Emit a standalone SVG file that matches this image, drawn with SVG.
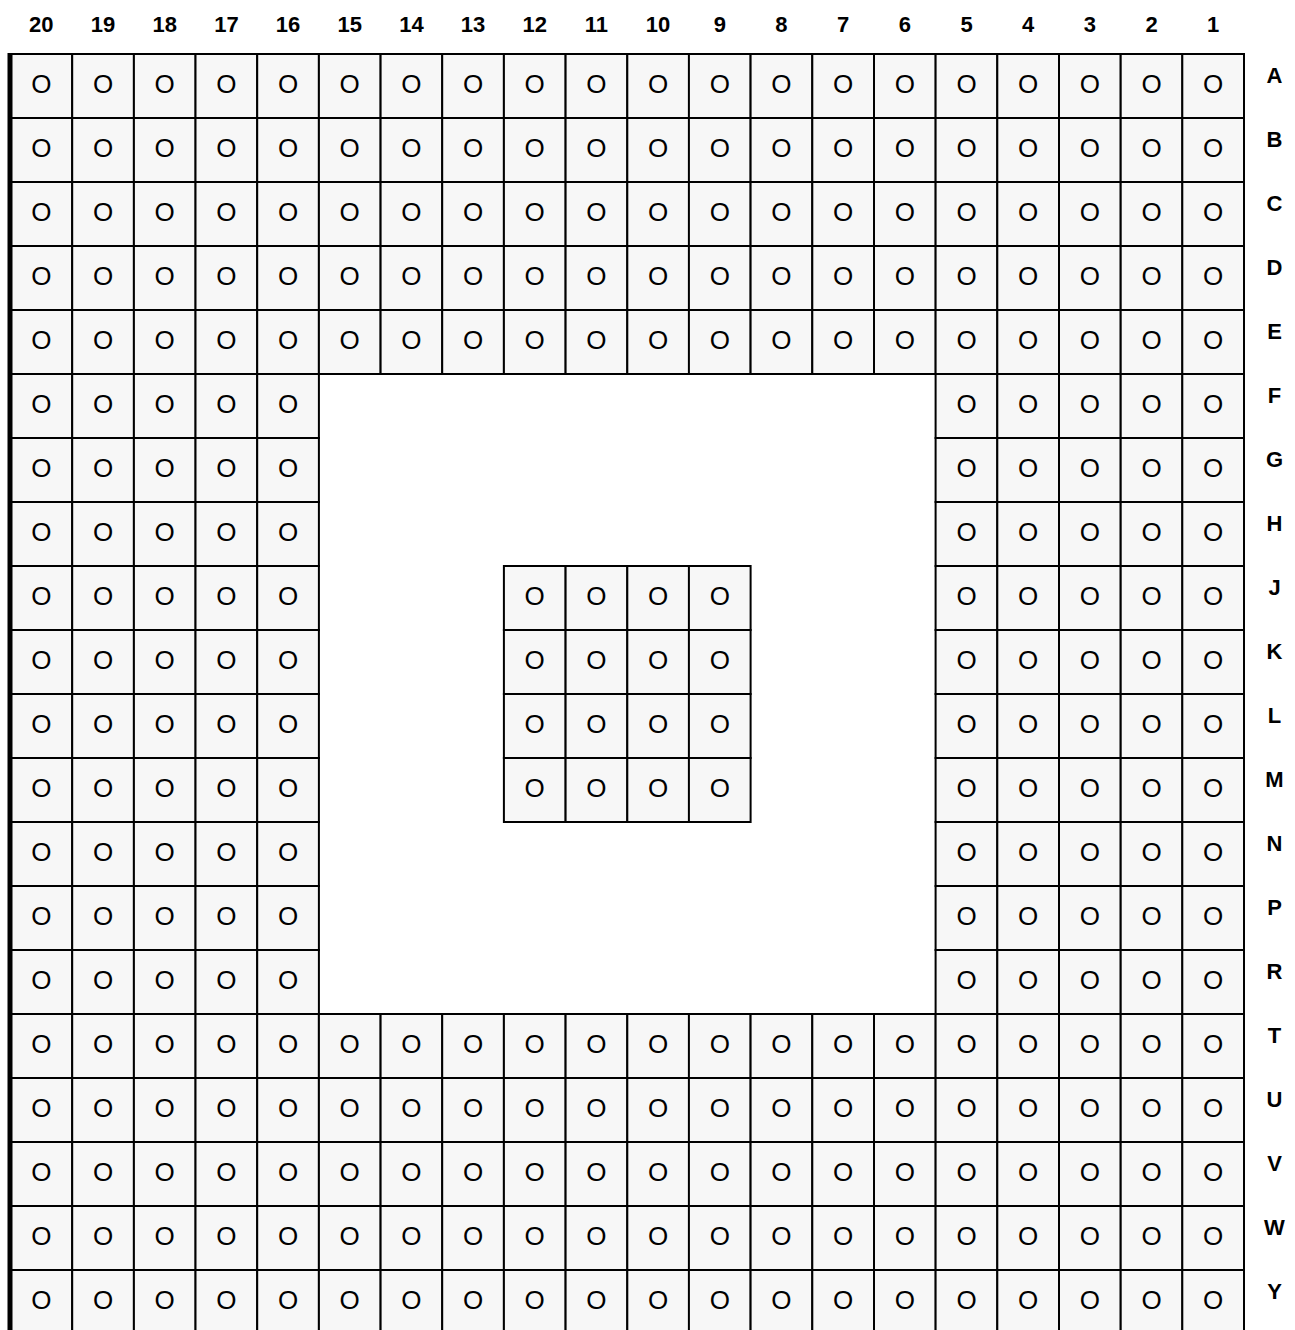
<svg xmlns="http://www.w3.org/2000/svg" width="1295" height="1330" viewBox="0 0 1295 1330">
<style>
rect{fill:#f7f7f7;stroke:#000;stroke-width:2}
text{font-family:"Liberation Sans",Arial,sans-serif;font-size:26px;text-anchor:middle;fill:#000}
.lbl{font-size:22px;font-weight:bold}
</style>
<rect x="0" y="0" width="1295" height="1330" style="fill:#fff;stroke:none"/>
<g id="col-labels">
<text class="lbl" x="41.3" y="32">20</text><text class="lbl" x="103" y="32">19</text><text class="lbl" x="164.7" y="32">18</text><text class="lbl" x="226.4" y="32">17</text><text class="lbl" x="288" y="32">16</text><text class="lbl" x="349.7" y="32">15</text><text class="lbl" x="411.4" y="32">14</text><text class="lbl" x="473.1" y="32">13</text><text class="lbl" x="534.7" y="32">12</text><text class="lbl" x="596.4" y="32">11</text><text class="lbl" x="658.1" y="32">10</text><text class="lbl" x="719.8" y="32">9</text><text class="lbl" x="781.4" y="32">8</text><text class="lbl" x="843.1" y="32">7</text><text class="lbl" x="904.8" y="32">6</text><text class="lbl" x="966.5" y="32">5</text><text class="lbl" x="1028.1" y="32">4</text><text class="lbl" x="1089.8" y="32">3</text><text class="lbl" x="1151.5" y="32">2</text><text class="lbl" x="1213.2" y="32">1</text>
</g>
<g id="row-labels">
<text class="lbl" x="1274.5" y="83">A</text><text class="lbl" x="1274.5" y="147">B</text><text class="lbl" x="1274.5" y="211">C</text><text class="lbl" x="1274.5" y="275">D</text><text class="lbl" x="1274.5" y="339">E</text><text class="lbl" x="1274.5" y="403">F</text><text class="lbl" x="1274.5" y="467">G</text><text class="lbl" x="1274.5" y="531">H</text><text class="lbl" x="1274.5" y="595">J</text><text class="lbl" x="1274.5" y="659">K</text><text class="lbl" x="1274.5" y="723">L</text><text class="lbl" x="1274.5" y="787">M</text><text class="lbl" x="1274.5" y="851">N</text><text class="lbl" x="1274.5" y="915">P</text><text class="lbl" x="1274.5" y="979">R</text><text class="lbl" x="1274.5" y="1043">T</text><text class="lbl" x="1274.5" y="1107">U</text><text class="lbl" x="1274.5" y="1171">V</text><text class="lbl" x="1274.5" y="1235">W</text><text class="lbl" x="1274.5" y="1299">Y</text>
</g>
<g id="cells">
<g transform="translate(0,54)">
<g id="A20"><rect x="10.5" width="61.7" height="64"/><text x="41.3" y="39">O</text></g><g id="A19"><rect x="72.2" width="61.7" height="64"/><text x="103" y="39">O</text></g><g id="A18"><rect x="133.9" width="61.7" height="64"/><text x="164.7" y="39">O</text></g><g id="A17"><rect x="195.5" width="61.7" height="64"/><text x="226.4" y="39">O</text></g><g id="A16"><rect x="257.2" width="61.7" height="64"/><text x="288" y="39">O</text></g><g id="A15"><rect x="318.9" width="61.7" height="64"/><text x="349.7" y="39">O</text></g><g id="A14"><rect x="380.6" width="61.7" height="64"/><text x="411.4" y="39">O</text></g><g id="A13"><rect x="442.2" width="61.7" height="64"/><text x="473.1" y="39">O</text></g><g id="A12"><rect x="503.9" width="61.7" height="64"/><text x="534.7" y="39">O</text></g><g id="A11"><rect x="565.6" width="61.7" height="64"/><text x="596.4" y="39">O</text></g><g id="A10"><rect x="627.3" width="61.7" height="64"/><text x="658.1" y="39">O</text></g><g id="A9"><rect x="688.9" width="61.7" height="64"/><text x="719.8" y="39">O</text></g><g id="A8"><rect x="750.6" width="61.7" height="64"/><text x="781.4" y="39">O</text></g><g id="A7"><rect x="812.3" width="61.7" height="64"/><text x="843.1" y="39">O</text></g><g id="A6"><rect x="874" width="61.7" height="64"/><text x="904.8" y="39">O</text></g><g id="A5"><rect x="935.6" width="61.7" height="64"/><text x="966.5" y="39">O</text></g><g id="A4"><rect x="997.3" width="61.7" height="64"/><text x="1028.1" y="39">O</text></g><g id="A3"><rect x="1059" width="61.7" height="64"/><text x="1089.8" y="39">O</text></g><g id="A2"><rect x="1120.7" width="61.7" height="64"/><text x="1151.5" y="39">O</text></g><g id="A1"><rect x="1182.3" width="61.7" height="64"/><text x="1213.2" y="39">O</text></g>
</g>
<g transform="translate(0,118)">
<g id="B20"><rect x="10.5" width="61.7" height="64"/><text x="41.3" y="39">O</text></g><g id="B19"><rect x="72.2" width="61.7" height="64"/><text x="103" y="39">O</text></g><g id="B18"><rect x="133.9" width="61.7" height="64"/><text x="164.7" y="39">O</text></g><g id="B17"><rect x="195.5" width="61.7" height="64"/><text x="226.4" y="39">O</text></g><g id="B16"><rect x="257.2" width="61.7" height="64"/><text x="288" y="39">O</text></g><g id="B15"><rect x="318.9" width="61.7" height="64"/><text x="349.7" y="39">O</text></g><g id="B14"><rect x="380.6" width="61.7" height="64"/><text x="411.4" y="39">O</text></g><g id="B13"><rect x="442.2" width="61.7" height="64"/><text x="473.1" y="39">O</text></g><g id="B12"><rect x="503.9" width="61.7" height="64"/><text x="534.7" y="39">O</text></g><g id="B11"><rect x="565.6" width="61.7" height="64"/><text x="596.4" y="39">O</text></g><g id="B10"><rect x="627.3" width="61.7" height="64"/><text x="658.1" y="39">O</text></g><g id="B9"><rect x="688.9" width="61.7" height="64"/><text x="719.8" y="39">O</text></g><g id="B8"><rect x="750.6" width="61.7" height="64"/><text x="781.4" y="39">O</text></g><g id="B7"><rect x="812.3" width="61.7" height="64"/><text x="843.1" y="39">O</text></g><g id="B6"><rect x="874" width="61.7" height="64"/><text x="904.8" y="39">O</text></g><g id="B5"><rect x="935.6" width="61.7" height="64"/><text x="966.5" y="39">O</text></g><g id="B4"><rect x="997.3" width="61.7" height="64"/><text x="1028.1" y="39">O</text></g><g id="B3"><rect x="1059" width="61.7" height="64"/><text x="1089.8" y="39">O</text></g><g id="B2"><rect x="1120.7" width="61.7" height="64"/><text x="1151.5" y="39">O</text></g><g id="B1"><rect x="1182.3" width="61.7" height="64"/><text x="1213.2" y="39">O</text></g>
</g>
<g transform="translate(0,182)">
<g id="C20"><rect x="10.5" width="61.7" height="64"/><text x="41.3" y="39">O</text></g><g id="C19"><rect x="72.2" width="61.7" height="64"/><text x="103" y="39">O</text></g><g id="C18"><rect x="133.9" width="61.7" height="64"/><text x="164.7" y="39">O</text></g><g id="C17"><rect x="195.5" width="61.7" height="64"/><text x="226.4" y="39">O</text></g><g id="C16"><rect x="257.2" width="61.7" height="64"/><text x="288" y="39">O</text></g><g id="C15"><rect x="318.9" width="61.7" height="64"/><text x="349.7" y="39">O</text></g><g id="C14"><rect x="380.6" width="61.7" height="64"/><text x="411.4" y="39">O</text></g><g id="C13"><rect x="442.2" width="61.7" height="64"/><text x="473.1" y="39">O</text></g><g id="C12"><rect x="503.9" width="61.7" height="64"/><text x="534.7" y="39">O</text></g><g id="C11"><rect x="565.6" width="61.7" height="64"/><text x="596.4" y="39">O</text></g><g id="C10"><rect x="627.3" width="61.7" height="64"/><text x="658.1" y="39">O</text></g><g id="C9"><rect x="688.9" width="61.7" height="64"/><text x="719.8" y="39">O</text></g><g id="C8"><rect x="750.6" width="61.7" height="64"/><text x="781.4" y="39">O</text></g><g id="C7"><rect x="812.3" width="61.7" height="64"/><text x="843.1" y="39">O</text></g><g id="C6"><rect x="874" width="61.7" height="64"/><text x="904.8" y="39">O</text></g><g id="C5"><rect x="935.6" width="61.7" height="64"/><text x="966.5" y="39">O</text></g><g id="C4"><rect x="997.3" width="61.7" height="64"/><text x="1028.1" y="39">O</text></g><g id="C3"><rect x="1059" width="61.7" height="64"/><text x="1089.8" y="39">O</text></g><g id="C2"><rect x="1120.7" width="61.7" height="64"/><text x="1151.5" y="39">O</text></g><g id="C1"><rect x="1182.3" width="61.7" height="64"/><text x="1213.2" y="39">O</text></g>
</g>
<g transform="translate(0,246)">
<g id="D20"><rect x="10.5" width="61.7" height="64"/><text x="41.3" y="39">O</text></g><g id="D19"><rect x="72.2" width="61.7" height="64"/><text x="103" y="39">O</text></g><g id="D18"><rect x="133.9" width="61.7" height="64"/><text x="164.7" y="39">O</text></g><g id="D17"><rect x="195.5" width="61.7" height="64"/><text x="226.4" y="39">O</text></g><g id="D16"><rect x="257.2" width="61.7" height="64"/><text x="288" y="39">O</text></g><g id="D15"><rect x="318.9" width="61.7" height="64"/><text x="349.7" y="39">O</text></g><g id="D14"><rect x="380.6" width="61.7" height="64"/><text x="411.4" y="39">O</text></g><g id="D13"><rect x="442.2" width="61.7" height="64"/><text x="473.1" y="39">O</text></g><g id="D12"><rect x="503.9" width="61.7" height="64"/><text x="534.7" y="39">O</text></g><g id="D11"><rect x="565.6" width="61.7" height="64"/><text x="596.4" y="39">O</text></g><g id="D10"><rect x="627.3" width="61.7" height="64"/><text x="658.1" y="39">O</text></g><g id="D9"><rect x="688.9" width="61.7" height="64"/><text x="719.8" y="39">O</text></g><g id="D8"><rect x="750.6" width="61.7" height="64"/><text x="781.4" y="39">O</text></g><g id="D7"><rect x="812.3" width="61.7" height="64"/><text x="843.1" y="39">O</text></g><g id="D6"><rect x="874" width="61.7" height="64"/><text x="904.8" y="39">O</text></g><g id="D5"><rect x="935.6" width="61.7" height="64"/><text x="966.5" y="39">O</text></g><g id="D4"><rect x="997.3" width="61.7" height="64"/><text x="1028.1" y="39">O</text></g><g id="D3"><rect x="1059" width="61.7" height="64"/><text x="1089.8" y="39">O</text></g><g id="D2"><rect x="1120.7" width="61.7" height="64"/><text x="1151.5" y="39">O</text></g><g id="D1"><rect x="1182.3" width="61.7" height="64"/><text x="1213.2" y="39">O</text></g>
</g>
<g transform="translate(0,310)">
<g id="E20"><rect x="10.5" width="61.7" height="64"/><text x="41.3" y="39">O</text></g><g id="E19"><rect x="72.2" width="61.7" height="64"/><text x="103" y="39">O</text></g><g id="E18"><rect x="133.9" width="61.7" height="64"/><text x="164.7" y="39">O</text></g><g id="E17"><rect x="195.5" width="61.7" height="64"/><text x="226.4" y="39">O</text></g><g id="E16"><rect x="257.2" width="61.7" height="64"/><text x="288" y="39">O</text></g><g id="E15"><rect x="318.9" width="61.7" height="64"/><text x="349.7" y="39">O</text></g><g id="E14"><rect x="380.6" width="61.7" height="64"/><text x="411.4" y="39">O</text></g><g id="E13"><rect x="442.2" width="61.7" height="64"/><text x="473.1" y="39">O</text></g><g id="E12"><rect x="503.9" width="61.7" height="64"/><text x="534.7" y="39">O</text></g><g id="E11"><rect x="565.6" width="61.7" height="64"/><text x="596.4" y="39">O</text></g><g id="E10"><rect x="627.3" width="61.7" height="64"/><text x="658.1" y="39">O</text></g><g id="E9"><rect x="688.9" width="61.7" height="64"/><text x="719.8" y="39">O</text></g><g id="E8"><rect x="750.6" width="61.7" height="64"/><text x="781.4" y="39">O</text></g><g id="E7"><rect x="812.3" width="61.7" height="64"/><text x="843.1" y="39">O</text></g><g id="E6"><rect x="874" width="61.7" height="64"/><text x="904.8" y="39">O</text></g><g id="E5"><rect x="935.6" width="61.7" height="64"/><text x="966.5" y="39">O</text></g><g id="E4"><rect x="997.3" width="61.7" height="64"/><text x="1028.1" y="39">O</text></g><g id="E3"><rect x="1059" width="61.7" height="64"/><text x="1089.8" y="39">O</text></g><g id="E2"><rect x="1120.7" width="61.7" height="64"/><text x="1151.5" y="39">O</text></g><g id="E1"><rect x="1182.3" width="61.7" height="64"/><text x="1213.2" y="39">O</text></g>
</g>
<g transform="translate(0,374)">
<g id="F20"><rect x="10.5" width="61.7" height="64"/><text x="41.3" y="39">O</text></g><g id="F19"><rect x="72.2" width="61.7" height="64"/><text x="103" y="39">O</text></g><g id="F18"><rect x="133.9" width="61.7" height="64"/><text x="164.7" y="39">O</text></g><g id="F17"><rect x="195.5" width="61.7" height="64"/><text x="226.4" y="39">O</text></g><g id="F16"><rect x="257.2" width="61.7" height="64"/><text x="288" y="39">O</text></g><g id="F5"><rect x="935.6" width="61.7" height="64"/><text x="966.5" y="39">O</text></g><g id="F4"><rect x="997.3" width="61.7" height="64"/><text x="1028.1" y="39">O</text></g><g id="F3"><rect x="1059" width="61.7" height="64"/><text x="1089.8" y="39">O</text></g><g id="F2"><rect x="1120.7" width="61.7" height="64"/><text x="1151.5" y="39">O</text></g><g id="F1"><rect x="1182.3" width="61.7" height="64"/><text x="1213.2" y="39">O</text></g>
</g>
<g transform="translate(0,438)">
<g id="G20"><rect x="10.5" width="61.7" height="64"/><text x="41.3" y="39">O</text></g><g id="G19"><rect x="72.2" width="61.7" height="64"/><text x="103" y="39">O</text></g><g id="G18"><rect x="133.9" width="61.7" height="64"/><text x="164.7" y="39">O</text></g><g id="G17"><rect x="195.5" width="61.7" height="64"/><text x="226.4" y="39">O</text></g><g id="G16"><rect x="257.2" width="61.7" height="64"/><text x="288" y="39">O</text></g><g id="G5"><rect x="935.6" width="61.7" height="64"/><text x="966.5" y="39">O</text></g><g id="G4"><rect x="997.3" width="61.7" height="64"/><text x="1028.1" y="39">O</text></g><g id="G3"><rect x="1059" width="61.7" height="64"/><text x="1089.8" y="39">O</text></g><g id="G2"><rect x="1120.7" width="61.7" height="64"/><text x="1151.5" y="39">O</text></g><g id="G1"><rect x="1182.3" width="61.7" height="64"/><text x="1213.2" y="39">O</text></g>
</g>
<g transform="translate(0,502)">
<g id="H20"><rect x="10.5" width="61.7" height="64"/><text x="41.3" y="39">O</text></g><g id="H19"><rect x="72.2" width="61.7" height="64"/><text x="103" y="39">O</text></g><g id="H18"><rect x="133.9" width="61.7" height="64"/><text x="164.7" y="39">O</text></g><g id="H17"><rect x="195.5" width="61.7" height="64"/><text x="226.4" y="39">O</text></g><g id="H16"><rect x="257.2" width="61.7" height="64"/><text x="288" y="39">O</text></g><g id="H5"><rect x="935.6" width="61.7" height="64"/><text x="966.5" y="39">O</text></g><g id="H4"><rect x="997.3" width="61.7" height="64"/><text x="1028.1" y="39">O</text></g><g id="H3"><rect x="1059" width="61.7" height="64"/><text x="1089.8" y="39">O</text></g><g id="H2"><rect x="1120.7" width="61.7" height="64"/><text x="1151.5" y="39">O</text></g><g id="H1"><rect x="1182.3" width="61.7" height="64"/><text x="1213.2" y="39">O</text></g>
</g>
<g transform="translate(0,566)">
<g id="J20"><rect x="10.5" width="61.7" height="64"/><text x="41.3" y="39">O</text></g><g id="J19"><rect x="72.2" width="61.7" height="64"/><text x="103" y="39">O</text></g><g id="J18"><rect x="133.9" width="61.7" height="64"/><text x="164.7" y="39">O</text></g><g id="J17"><rect x="195.5" width="61.7" height="64"/><text x="226.4" y="39">O</text></g><g id="J16"><rect x="257.2" width="61.7" height="64"/><text x="288" y="39">O</text></g><g id="J12"><rect x="503.9" width="61.7" height="64"/><text x="534.7" y="39">O</text></g><g id="J11"><rect x="565.6" width="61.7" height="64"/><text x="596.4" y="39">O</text></g><g id="J10"><rect x="627.3" width="61.7" height="64"/><text x="658.1" y="39">O</text></g><g id="J9"><rect x="688.9" width="61.7" height="64"/><text x="719.8" y="39">O</text></g><g id="J5"><rect x="935.6" width="61.7" height="64"/><text x="966.5" y="39">O</text></g><g id="J4"><rect x="997.3" width="61.7" height="64"/><text x="1028.1" y="39">O</text></g><g id="J3"><rect x="1059" width="61.7" height="64"/><text x="1089.8" y="39">O</text></g><g id="J2"><rect x="1120.7" width="61.7" height="64"/><text x="1151.5" y="39">O</text></g><g id="J1"><rect x="1182.3" width="61.7" height="64"/><text x="1213.2" y="39">O</text></g>
</g>
<g transform="translate(0,630)">
<g id="K20"><rect x="10.5" width="61.7" height="64"/><text x="41.3" y="39">O</text></g><g id="K19"><rect x="72.2" width="61.7" height="64"/><text x="103" y="39">O</text></g><g id="K18"><rect x="133.9" width="61.7" height="64"/><text x="164.7" y="39">O</text></g><g id="K17"><rect x="195.5" width="61.7" height="64"/><text x="226.4" y="39">O</text></g><g id="K16"><rect x="257.2" width="61.7" height="64"/><text x="288" y="39">O</text></g><g id="K12"><rect x="503.9" width="61.7" height="64"/><text x="534.7" y="39">O</text></g><g id="K11"><rect x="565.6" width="61.7" height="64"/><text x="596.4" y="39">O</text></g><g id="K10"><rect x="627.3" width="61.7" height="64"/><text x="658.1" y="39">O</text></g><g id="K9"><rect x="688.9" width="61.7" height="64"/><text x="719.8" y="39">O</text></g><g id="K5"><rect x="935.6" width="61.7" height="64"/><text x="966.5" y="39">O</text></g><g id="K4"><rect x="997.3" width="61.7" height="64"/><text x="1028.1" y="39">O</text></g><g id="K3"><rect x="1059" width="61.7" height="64"/><text x="1089.8" y="39">O</text></g><g id="K2"><rect x="1120.7" width="61.7" height="64"/><text x="1151.5" y="39">O</text></g><g id="K1"><rect x="1182.3" width="61.7" height="64"/><text x="1213.2" y="39">O</text></g>
</g>
<g transform="translate(0,694)">
<g id="L20"><rect x="10.5" width="61.7" height="64"/><text x="41.3" y="39">O</text></g><g id="L19"><rect x="72.2" width="61.7" height="64"/><text x="103" y="39">O</text></g><g id="L18"><rect x="133.9" width="61.7" height="64"/><text x="164.7" y="39">O</text></g><g id="L17"><rect x="195.5" width="61.7" height="64"/><text x="226.4" y="39">O</text></g><g id="L16"><rect x="257.2" width="61.7" height="64"/><text x="288" y="39">O</text></g><g id="L12"><rect x="503.9" width="61.7" height="64"/><text x="534.7" y="39">O</text></g><g id="L11"><rect x="565.6" width="61.7" height="64"/><text x="596.4" y="39">O</text></g><g id="L10"><rect x="627.3" width="61.7" height="64"/><text x="658.1" y="39">O</text></g><g id="L9"><rect x="688.9" width="61.7" height="64"/><text x="719.8" y="39">O</text></g><g id="L5"><rect x="935.6" width="61.7" height="64"/><text x="966.5" y="39">O</text></g><g id="L4"><rect x="997.3" width="61.7" height="64"/><text x="1028.1" y="39">O</text></g><g id="L3"><rect x="1059" width="61.7" height="64"/><text x="1089.8" y="39">O</text></g><g id="L2"><rect x="1120.7" width="61.7" height="64"/><text x="1151.5" y="39">O</text></g><g id="L1"><rect x="1182.3" width="61.7" height="64"/><text x="1213.2" y="39">O</text></g>
</g>
<g transform="translate(0,758)">
<g id="M20"><rect x="10.5" width="61.7" height="64"/><text x="41.3" y="39">O</text></g><g id="M19"><rect x="72.2" width="61.7" height="64"/><text x="103" y="39">O</text></g><g id="M18"><rect x="133.9" width="61.7" height="64"/><text x="164.7" y="39">O</text></g><g id="M17"><rect x="195.5" width="61.7" height="64"/><text x="226.4" y="39">O</text></g><g id="M16"><rect x="257.2" width="61.7" height="64"/><text x="288" y="39">O</text></g><g id="M12"><rect x="503.9" width="61.7" height="64"/><text x="534.7" y="39">O</text></g><g id="M11"><rect x="565.6" width="61.7" height="64"/><text x="596.4" y="39">O</text></g><g id="M10"><rect x="627.3" width="61.7" height="64"/><text x="658.1" y="39">O</text></g><g id="M9"><rect x="688.9" width="61.7" height="64"/><text x="719.8" y="39">O</text></g><g id="M5"><rect x="935.6" width="61.7" height="64"/><text x="966.5" y="39">O</text></g><g id="M4"><rect x="997.3" width="61.7" height="64"/><text x="1028.1" y="39">O</text></g><g id="M3"><rect x="1059" width="61.7" height="64"/><text x="1089.8" y="39">O</text></g><g id="M2"><rect x="1120.7" width="61.7" height="64"/><text x="1151.5" y="39">O</text></g><g id="M1"><rect x="1182.3" width="61.7" height="64"/><text x="1213.2" y="39">O</text></g>
</g>
<g transform="translate(0,822)">
<g id="N20"><rect x="10.5" width="61.7" height="64"/><text x="41.3" y="39">O</text></g><g id="N19"><rect x="72.2" width="61.7" height="64"/><text x="103" y="39">O</text></g><g id="N18"><rect x="133.9" width="61.7" height="64"/><text x="164.7" y="39">O</text></g><g id="N17"><rect x="195.5" width="61.7" height="64"/><text x="226.4" y="39">O</text></g><g id="N16"><rect x="257.2" width="61.7" height="64"/><text x="288" y="39">O</text></g><g id="N5"><rect x="935.6" width="61.7" height="64"/><text x="966.5" y="39">O</text></g><g id="N4"><rect x="997.3" width="61.7" height="64"/><text x="1028.1" y="39">O</text></g><g id="N3"><rect x="1059" width="61.7" height="64"/><text x="1089.8" y="39">O</text></g><g id="N2"><rect x="1120.7" width="61.7" height="64"/><text x="1151.5" y="39">O</text></g><g id="N1"><rect x="1182.3" width="61.7" height="64"/><text x="1213.2" y="39">O</text></g>
</g>
<g transform="translate(0,886)">
<g id="P20"><rect x="10.5" width="61.7" height="64"/><text x="41.3" y="39">O</text></g><g id="P19"><rect x="72.2" width="61.7" height="64"/><text x="103" y="39">O</text></g><g id="P18"><rect x="133.9" width="61.7" height="64"/><text x="164.7" y="39">O</text></g><g id="P17"><rect x="195.5" width="61.7" height="64"/><text x="226.4" y="39">O</text></g><g id="P16"><rect x="257.2" width="61.7" height="64"/><text x="288" y="39">O</text></g><g id="P5"><rect x="935.6" width="61.7" height="64"/><text x="966.5" y="39">O</text></g><g id="P4"><rect x="997.3" width="61.7" height="64"/><text x="1028.1" y="39">O</text></g><g id="P3"><rect x="1059" width="61.7" height="64"/><text x="1089.8" y="39">O</text></g><g id="P2"><rect x="1120.7" width="61.7" height="64"/><text x="1151.5" y="39">O</text></g><g id="P1"><rect x="1182.3" width="61.7" height="64"/><text x="1213.2" y="39">O</text></g>
</g>
<g transform="translate(0,950)">
<g id="R20"><rect x="10.5" width="61.7" height="64"/><text x="41.3" y="39">O</text></g><g id="R19"><rect x="72.2" width="61.7" height="64"/><text x="103" y="39">O</text></g><g id="R18"><rect x="133.9" width="61.7" height="64"/><text x="164.7" y="39">O</text></g><g id="R17"><rect x="195.5" width="61.7" height="64"/><text x="226.4" y="39">O</text></g><g id="R16"><rect x="257.2" width="61.7" height="64"/><text x="288" y="39">O</text></g><g id="R5"><rect x="935.6" width="61.7" height="64"/><text x="966.5" y="39">O</text></g><g id="R4"><rect x="997.3" width="61.7" height="64"/><text x="1028.1" y="39">O</text></g><g id="R3"><rect x="1059" width="61.7" height="64"/><text x="1089.8" y="39">O</text></g><g id="R2"><rect x="1120.7" width="61.7" height="64"/><text x="1151.5" y="39">O</text></g><g id="R1"><rect x="1182.3" width="61.7" height="64"/><text x="1213.2" y="39">O</text></g>
</g>
<g transform="translate(0,1014)">
<g id="T20"><rect x="10.5" width="61.7" height="64"/><text x="41.3" y="39">O</text></g><g id="T19"><rect x="72.2" width="61.7" height="64"/><text x="103" y="39">O</text></g><g id="T18"><rect x="133.9" width="61.7" height="64"/><text x="164.7" y="39">O</text></g><g id="T17"><rect x="195.5" width="61.7" height="64"/><text x="226.4" y="39">O</text></g><g id="T16"><rect x="257.2" width="61.7" height="64"/><text x="288" y="39">O</text></g><g id="T15"><rect x="318.9" width="61.7" height="64"/><text x="349.7" y="39">O</text></g><g id="T14"><rect x="380.6" width="61.7" height="64"/><text x="411.4" y="39">O</text></g><g id="T13"><rect x="442.2" width="61.7" height="64"/><text x="473.1" y="39">O</text></g><g id="T12"><rect x="503.9" width="61.7" height="64"/><text x="534.7" y="39">O</text></g><g id="T11"><rect x="565.6" width="61.7" height="64"/><text x="596.4" y="39">O</text></g><g id="T10"><rect x="627.3" width="61.7" height="64"/><text x="658.1" y="39">O</text></g><g id="T9"><rect x="688.9" width="61.7" height="64"/><text x="719.8" y="39">O</text></g><g id="T8"><rect x="750.6" width="61.7" height="64"/><text x="781.4" y="39">O</text></g><g id="T7"><rect x="812.3" width="61.7" height="64"/><text x="843.1" y="39">O</text></g><g id="T6"><rect x="874" width="61.7" height="64"/><text x="904.8" y="39">O</text></g><g id="T5"><rect x="935.6" width="61.7" height="64"/><text x="966.5" y="39">O</text></g><g id="T4"><rect x="997.3" width="61.7" height="64"/><text x="1028.1" y="39">O</text></g><g id="T3"><rect x="1059" width="61.7" height="64"/><text x="1089.8" y="39">O</text></g><g id="T2"><rect x="1120.7" width="61.7" height="64"/><text x="1151.5" y="39">O</text></g><g id="T1"><rect x="1182.3" width="61.7" height="64"/><text x="1213.2" y="39">O</text></g>
</g>
<g transform="translate(0,1078)">
<g id="U20"><rect x="10.5" width="61.7" height="64"/><text x="41.3" y="39">O</text></g><g id="U19"><rect x="72.2" width="61.7" height="64"/><text x="103" y="39">O</text></g><g id="U18"><rect x="133.9" width="61.7" height="64"/><text x="164.7" y="39">O</text></g><g id="U17"><rect x="195.5" width="61.7" height="64"/><text x="226.4" y="39">O</text></g><g id="U16"><rect x="257.2" width="61.7" height="64"/><text x="288" y="39">O</text></g><g id="U15"><rect x="318.9" width="61.7" height="64"/><text x="349.7" y="39">O</text></g><g id="U14"><rect x="380.6" width="61.7" height="64"/><text x="411.4" y="39">O</text></g><g id="U13"><rect x="442.2" width="61.7" height="64"/><text x="473.1" y="39">O</text></g><g id="U12"><rect x="503.9" width="61.7" height="64"/><text x="534.7" y="39">O</text></g><g id="U11"><rect x="565.6" width="61.7" height="64"/><text x="596.4" y="39">O</text></g><g id="U10"><rect x="627.3" width="61.7" height="64"/><text x="658.1" y="39">O</text></g><g id="U9"><rect x="688.9" width="61.7" height="64"/><text x="719.8" y="39">O</text></g><g id="U8"><rect x="750.6" width="61.7" height="64"/><text x="781.4" y="39">O</text></g><g id="U7"><rect x="812.3" width="61.7" height="64"/><text x="843.1" y="39">O</text></g><g id="U6"><rect x="874" width="61.7" height="64"/><text x="904.8" y="39">O</text></g><g id="U5"><rect x="935.6" width="61.7" height="64"/><text x="966.5" y="39">O</text></g><g id="U4"><rect x="997.3" width="61.7" height="64"/><text x="1028.1" y="39">O</text></g><g id="U3"><rect x="1059" width="61.7" height="64"/><text x="1089.8" y="39">O</text></g><g id="U2"><rect x="1120.7" width="61.7" height="64"/><text x="1151.5" y="39">O</text></g><g id="U1"><rect x="1182.3" width="61.7" height="64"/><text x="1213.2" y="39">O</text></g>
</g>
<g transform="translate(0,1142)">
<g id="V20"><rect x="10.5" width="61.7" height="64"/><text x="41.3" y="39">O</text></g><g id="V19"><rect x="72.2" width="61.7" height="64"/><text x="103" y="39">O</text></g><g id="V18"><rect x="133.9" width="61.7" height="64"/><text x="164.7" y="39">O</text></g><g id="V17"><rect x="195.5" width="61.7" height="64"/><text x="226.4" y="39">O</text></g><g id="V16"><rect x="257.2" width="61.7" height="64"/><text x="288" y="39">O</text></g><g id="V15"><rect x="318.9" width="61.7" height="64"/><text x="349.7" y="39">O</text></g><g id="V14"><rect x="380.6" width="61.7" height="64"/><text x="411.4" y="39">O</text></g><g id="V13"><rect x="442.2" width="61.7" height="64"/><text x="473.1" y="39">O</text></g><g id="V12"><rect x="503.9" width="61.7" height="64"/><text x="534.7" y="39">O</text></g><g id="V11"><rect x="565.6" width="61.7" height="64"/><text x="596.4" y="39">O</text></g><g id="V10"><rect x="627.3" width="61.7" height="64"/><text x="658.1" y="39">O</text></g><g id="V9"><rect x="688.9" width="61.7" height="64"/><text x="719.8" y="39">O</text></g><g id="V8"><rect x="750.6" width="61.7" height="64"/><text x="781.4" y="39">O</text></g><g id="V7"><rect x="812.3" width="61.7" height="64"/><text x="843.1" y="39">O</text></g><g id="V6"><rect x="874" width="61.7" height="64"/><text x="904.8" y="39">O</text></g><g id="V5"><rect x="935.6" width="61.7" height="64"/><text x="966.5" y="39">O</text></g><g id="V4"><rect x="997.3" width="61.7" height="64"/><text x="1028.1" y="39">O</text></g><g id="V3"><rect x="1059" width="61.7" height="64"/><text x="1089.8" y="39">O</text></g><g id="V2"><rect x="1120.7" width="61.7" height="64"/><text x="1151.5" y="39">O</text></g><g id="V1"><rect x="1182.3" width="61.7" height="64"/><text x="1213.2" y="39">O</text></g>
</g>
<g transform="translate(0,1206)">
<g id="W20"><rect x="10.5" width="61.7" height="64"/><text x="41.3" y="39">O</text></g><g id="W19"><rect x="72.2" width="61.7" height="64"/><text x="103" y="39">O</text></g><g id="W18"><rect x="133.9" width="61.7" height="64"/><text x="164.7" y="39">O</text></g><g id="W17"><rect x="195.5" width="61.7" height="64"/><text x="226.4" y="39">O</text></g><g id="W16"><rect x="257.2" width="61.7" height="64"/><text x="288" y="39">O</text></g><g id="W15"><rect x="318.9" width="61.7" height="64"/><text x="349.7" y="39">O</text></g><g id="W14"><rect x="380.6" width="61.7" height="64"/><text x="411.4" y="39">O</text></g><g id="W13"><rect x="442.2" width="61.7" height="64"/><text x="473.1" y="39">O</text></g><g id="W12"><rect x="503.9" width="61.7" height="64"/><text x="534.7" y="39">O</text></g><g id="W11"><rect x="565.6" width="61.7" height="64"/><text x="596.4" y="39">O</text></g><g id="W10"><rect x="627.3" width="61.7" height="64"/><text x="658.1" y="39">O</text></g><g id="W9"><rect x="688.9" width="61.7" height="64"/><text x="719.8" y="39">O</text></g><g id="W8"><rect x="750.6" width="61.7" height="64"/><text x="781.4" y="39">O</text></g><g id="W7"><rect x="812.3" width="61.7" height="64"/><text x="843.1" y="39">O</text></g><g id="W6"><rect x="874" width="61.7" height="64"/><text x="904.8" y="39">O</text></g><g id="W5"><rect x="935.6" width="61.7" height="64"/><text x="966.5" y="39">O</text></g><g id="W4"><rect x="997.3" width="61.7" height="64"/><text x="1028.1" y="39">O</text></g><g id="W3"><rect x="1059" width="61.7" height="64"/><text x="1089.8" y="39">O</text></g><g id="W2"><rect x="1120.7" width="61.7" height="64"/><text x="1151.5" y="39">O</text></g><g id="W1"><rect x="1182.3" width="61.7" height="64"/><text x="1213.2" y="39">O</text></g>
</g>
<g transform="translate(0,1270)">
<g id="Y20"><rect x="10.5" width="61.7" height="64"/><text x="41.3" y="39">O</text></g><g id="Y19"><rect x="72.2" width="61.7" height="64"/><text x="103" y="39">O</text></g><g id="Y18"><rect x="133.9" width="61.7" height="64"/><text x="164.7" y="39">O</text></g><g id="Y17"><rect x="195.5" width="61.7" height="64"/><text x="226.4" y="39">O</text></g><g id="Y16"><rect x="257.2" width="61.7" height="64"/><text x="288" y="39">O</text></g><g id="Y15"><rect x="318.9" width="61.7" height="64"/><text x="349.7" y="39">O</text></g><g id="Y14"><rect x="380.6" width="61.7" height="64"/><text x="411.4" y="39">O</text></g><g id="Y13"><rect x="442.2" width="61.7" height="64"/><text x="473.1" y="39">O</text></g><g id="Y12"><rect x="503.9" width="61.7" height="64"/><text x="534.7" y="39">O</text></g><g id="Y11"><rect x="565.6" width="61.7" height="64"/><text x="596.4" y="39">O</text></g><g id="Y10"><rect x="627.3" width="61.7" height="64"/><text x="658.1" y="39">O</text></g><g id="Y9"><rect x="688.9" width="61.7" height="64"/><text x="719.8" y="39">O</text></g><g id="Y8"><rect x="750.6" width="61.7" height="64"/><text x="781.4" y="39">O</text></g><g id="Y7"><rect x="812.3" width="61.7" height="64"/><text x="843.1" y="39">O</text></g><g id="Y6"><rect x="874" width="61.7" height="64"/><text x="904.8" y="39">O</text></g><g id="Y5"><rect x="935.6" width="61.7" height="64"/><text x="966.5" y="39">O</text></g><g id="Y4"><rect x="997.3" width="61.7" height="64"/><text x="1028.1" y="39">O</text></g><g id="Y3"><rect x="1059" width="61.7" height="64"/><text x="1089.8" y="39">O</text></g><g id="Y2"><rect x="1120.7" width="61.7" height="64"/><text x="1151.5" y="39">O</text></g><g id="Y1"><rect x="1182.3" width="61.7" height="64"/><text x="1213.2" y="39">O</text></g>
</g>
</g>
<g id="connectors">
<line x1="10" y1="53" x2="10" y2="1330" stroke="#000" stroke-width="5"/>
</g>
</svg>
